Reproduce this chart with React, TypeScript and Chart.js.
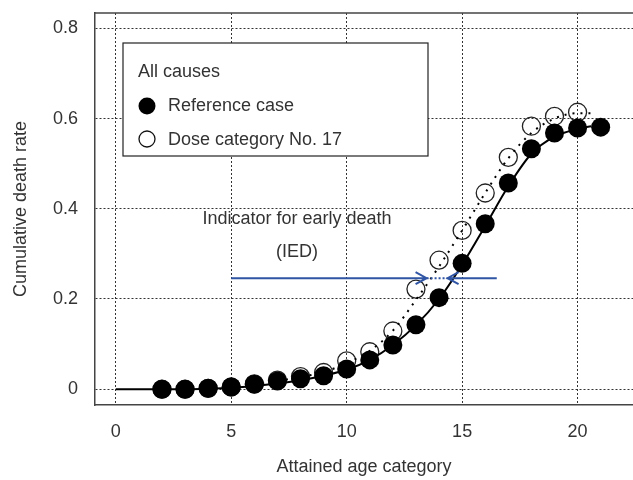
import React, { useEffect, useRef } from 'react';
import { Chart, registerables } from 'chart.js';

Chart.register(...registerables);

// ---- data ----
const refAges = [2, 3, 4, 5, 6, 7, 8, 9, 10, 11, 12, 13, 14, 15, 16, 17, 18, 19, 20, 21];
const refRates = [0.0, 0.0, 0.002, 0.005, 0.011, 0.018, 0.023, 0.03, 0.045, 0.065, 0.098, 0.143, 0.203, 0.279, 0.367, 0.457, 0.533, 0.568, 0.579, 0.581];
const doseAges = [2, 3, 4, 5, 6, 7, 8, 9, 10, 11, 12, 13, 14, 15, 16, 17, 18, 19, 20];
const doseRates = [0.0, 0.0, 0.002, 0.005, 0.012, 0.02, 0.028, 0.037, 0.063, 0.083, 0.129, 0.222, 0.286, 0.352, 0.435, 0.514, 0.583, 0.605, 0.614];
const refFitAges = [0, 1, 2, 3, 4, 5, 6, 7, 8, 9, 10, 11, 12, 13, 14, 15, 16, 17, 18, 19, 20, 20.6];
const refFitRates = [0, 0, 0, 0, 0.001, 0.003, 0.007, 0.013, 0.02, 0.03, 0.043, 0.065, 0.098, 0.142, 0.2, 0.276, 0.362, 0.45, 0.522, 0.56, 0.577, 0.583];
const doseFitAges = [6, 7, 8, 9, 10, 11, 12, 13, 14, 15, 16, 17, 18, 19, 20, 20.7];
const doseFitRates = [0.01, 0.018, 0.027, 0.038, 0.058, 0.085, 0.13, 0.198, 0.272, 0.352, 0.435, 0.512, 0.568, 0.6, 0.612, 0.612];
const xTicks = [0, 5, 10, 15, 20];
const yTicks = [0, 0.2, 0.4, 0.6, 0.8];
const xTitle = 'Attained age category';
const yTitle = 'Cumulative death rate';
const legendTitle = 'All causes';
const legendLabels = ['Reference case', 'Dose category No. 17'];
const iedText = ['Indicator for early death', '(IED)'];
const iedLevel = 0.246;
const iedLeftStart = 5;
const iedLeftTip = 13.46;
const iedRightTip = 14.37;
const iedRightEnd = 16.5;
const iedTextAge = 7.85;
const iedTextRates = [0.377, 0.304];

const FONT = "'Liberation Sans', Arial, Helvetica, sans-serif";
const TEXT = '#333333';
const BLUE = '#2f55a4';
const FS = 18;

const overlay = {
  id: 'overlay',
  afterDatasetsDraw(chart: any) {
    const { ctx, chartArea } = chart;
    const xs = chart.scales.x;
    const ys = chart.scales.y;
    ctx.save();
    // top border
    ctx.strokeStyle = '#444';
    ctx.lineWidth = 1.5;
    ctx.beginPath();
    ctx.moveTo(chartArea.left, chartArea.top);
    ctx.lineTo(chartArea.right, chartArea.top);
    ctx.stroke();

    // legend box
    const bx = chartArea.left + 28;
    const by = chartArea.top + 30;
    const bw = 305;
    const bh = 113;
    ctx.fillStyle = '#fff';
    ctx.fillRect(bx, by, bw, bh);
    ctx.strokeStyle = '#222';
    ctx.lineWidth = 1.2;
    ctx.strokeRect(bx, by, bw, bh);
    ctx.font = `${FS}px ${FONT}`;
    ctx.fillStyle = TEXT;
    ctx.textBaseline = 'middle';
    ctx.textAlign = 'left';
    ctx.fillText(legendTitle, bx + 15, by + 29);
    ctx.fillText(legendLabels[0], bx + 45, by + 63);
    ctx.fillText(legendLabels[1], bx + 45, by + 97);
    ctx.beginPath();
    ctx.arc(bx + 24, by + 63, 8.5, 0, Math.PI * 2);
    ctx.fillStyle = '#000';
    ctx.fill();
    ctx.beginPath();
    ctx.arc(bx + 24, by + 96, 8, 0, Math.PI * 2);
    ctx.strokeStyle = '#111';
    ctx.lineWidth = 1.3;
    ctx.stroke();

    // IED annotation text
    ctx.fillStyle = TEXT;
    ctx.textAlign = 'center';
    ctx.font = `${FS}px ${FONT}`;
    ctx.fillText(iedText[0], xs.getPixelForValue(iedTextAge), ys.getPixelForValue(iedTextRates[0]));
    ctx.fillText(iedText[1], xs.getPixelForValue(iedTextAge), ys.getPixelForValue(iedTextRates[1]));

    // IED arrows
    const yy = ys.getPixelForValue(iedLevel);
    const x1 = xs.getPixelForValue(iedLeftStart);
    const x2 = xs.getPixelForValue(iedLeftTip);
    const x3 = xs.getPixelForValue(iedRightTip);
    const x4 = xs.getPixelForValue(iedRightEnd);
    ctx.strokeStyle = BLUE;
    ctx.lineWidth = 2;
    ctx.beginPath();
    ctx.moveTo(x1, yy);
    ctx.lineTo(x2, yy);
    ctx.moveTo(x2 - 11, yy - 6);
    ctx.lineTo(x2, yy);
    ctx.lineTo(x2 - 11, yy + 6);
    ctx.moveTo(x4, yy);
    ctx.lineTo(x3, yy);
    ctx.moveTo(x3 + 11, yy - 6);
    ctx.lineTo(x3, yy);
    ctx.lineTo(x3 + 11, yy + 6);
    ctx.stroke();
    ctx.setLineDash([2, 2]);
    ctx.beginPath();
    ctx.moveTo(x2, yy);
    ctx.lineTo(x3, yy);
    ctx.stroke();
    ctx.restore();
  },
};

export default function App() {
  const ref = useRef<HTMLCanvasElement | null>(null);
  useEffect(() => {
    if (!ref.current) return;
    const chart = new Chart(ref.current, {
      type: 'scatter',
      data: {
        datasets: [
          {
            type: 'scatter',
            data: refAges.map((a, i) => ({ x: a, y: refRates[i] })),
            pointRadius: 9.5,
            pointBackgroundColor: '#000',
            pointBorderColor: '#000',
            pointBorderWidth: 0,
            order: 1,
          },
          {
            type: 'line',
            data: refFitAges.map((a, i) => ({ x: a, y: refFitRates[i] })),
            borderColor: '#000',
            borderWidth: 2,
            pointRadius: 0,
            cubicInterpolationMode: 'monotone',
            fill: false,
            order: 2,
          },
          {
            type: 'line',
            data: doseFitAges.map((a, i) => ({ x: a, y: doseFitRates[i] })),
            borderColor: '#000',
            borderWidth: 2,
            borderDash: [2, 6],
            pointRadius: 0,
            cubicInterpolationMode: 'monotone',
            fill: false,
            order: 3,
          },
          {
            type: 'scatter',
            data: doseAges.map((a, i) => ({ x: a, y: doseRates[i] })),
            pointRadius: 9,
            pointBackgroundColor: 'rgba(255,255,255,0)',
            pointBorderColor: '#222',
            pointBorderWidth: 1.3,
            order: 4,
          },
        ],
      },
      options: {
        animation: false,
        responsive: false,
        maintainAspectRatio: false,
        layout: { autoPadding: false, padding: { left: 0, top: 13, right: 0, bottom: 0 } },
        plugins: { legend: { display: false }, tooltip: { enabled: false } },
        scales: {
          x: {
            type: 'linear',
            min: -0.9,
            max: 22.4,
            afterBuildTicks: (s: any) => {
              s.ticks = xTicks.map((v) => ({ value: v }));
            },
            afterFit: (s: any) => {
              s.height = 75;
              s.paddingLeft = 0;
              s.paddingRight = 0;
            },
            grid: { color: '#333', lineWidth: 1, drawTicks: false },
            border: { display: true, color: '#444', width: 1.5, dash: [2, 2] } as any,
            ticks: { color: TEXT, font: { family: FONT, size: FS }, padding: 16, maxRotation: 0 },
            title: { display: true, text: xTitle, color: TEXT, font: { family: FONT, size: FS }, padding: { top: 2, bottom: 2 } },
          },
          y: {
            type: 'linear',
            min: -0.035,
            max: 0.834,
            afterBuildTicks: (s: any) => {
              s.ticks = yTicks.map((v) => ({ value: v }));
            },
            afterFit: (s: any) => {
              s.width = 95;
              s.paddingTop = 0;
              s.paddingBottom = 0;
            },
            grid: { color: '#333', lineWidth: 1, drawTicks: false },
            border: { display: true, color: '#444', width: 1.5, dash: [2, 2] } as any,
            ticks: {
              color: TEXT,
              font: { family: FONT, size: FS },
              padding: 17,
              callback: (v: any) => (v === 0 ? '0' : Number(v).toFixed(1)),
            },
            title: { display: true, text: yTitle, color: TEXT, font: { family: FONT, size: FS }, padding: { top: 10, bottom: 0 } },
          },
        },
      },
      plugins: [overlay],
    } as any);
    return () => chart.destroy();
  }, []);
  return (
    <div style={{ position: 'fixed', left: 0, top: 0, width: 633, height: 480, background: '#fff' }}>
      <canvas ref={ref} width={633} height={480} style={{ display: 'block' }} />
    </div>
  );
}
